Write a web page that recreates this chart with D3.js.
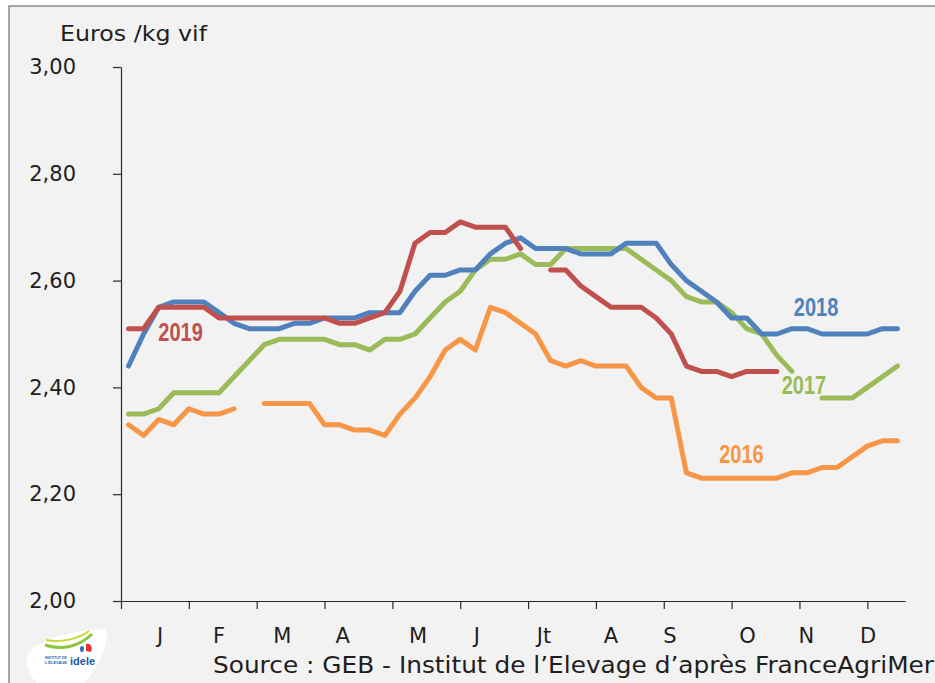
<!DOCTYPE html>
<html><head><meta charset="utf-8">
<script src="https://cdn.jsdelivr.net/npm/d3@7"></script>
<style>body{margin:0;background:#fff;} svg{display:block;}</style>
</head><body>
<svg id="chart" width="935" height="683"></svg>
<script>
// ---------- DATA ----------
const weeks = d3.range(1, 53);
const months = ["J","F","M","A","M","J","Jt","A","S","O","N","D"];
const monthLabelWeeks = [2.6, 6.5, 10.7, 14.7, 19.7, 23.6, 28.05, 32.5, 36.4, 41.55, 45.45, 49.55];
const xTickWeeks = [0, 4.5, 9, 13.5, 18, 22.5, 27, 31.5, 36, 40.5, 45, 49.5];
const yTicks = [2.0, 2.2, 2.4, 2.6, 2.8, 3.0];
const seriesNames = ["2016", "2017", "2018", "2019"];

const prix2016 = [2.33,2.31,2.34,2.33,2.36,2.35,2.35,2.36,null,2.37,2.37,2.37,2.37,2.33,2.33,2.32,2.32,2.31,2.35,2.38,
  2.42,2.47,2.49,2.47,2.55,2.54,2.52,2.50,2.45,2.44,2.45,2.44,2.44,2.44,2.40,2.38,2.38,2.24,2.23,2.23,
  2.23,2.23,2.23,2.23,2.24,2.24,2.25,2.25,2.27,2.29,2.30,2.30];
const prix2017 = [2.35,2.35,2.36,2.39,2.39,2.39,2.39,2.42,2.45,2.48,2.49,2.49,2.49,2.49,2.48,2.48,2.47,2.49,2.49,2.50,
  2.53,2.56,2.58,2.62,2.64,2.64,2.65,2.63,2.63,2.66,2.66,2.66,2.66,2.66,2.64,2.62,2.60,2.57,2.56,2.56,
  2.54,2.51,2.50,2.46,2.43,null,2.38,2.38,2.38,2.40,2.42,2.44];
const prix2018 = [2.44,2.50,2.55,2.56,2.56,2.56,2.54,2.52,2.51,2.51,2.51,2.52,2.52,2.53,2.53,2.53,2.54,2.54,2.54,2.58,
  2.61,2.61,2.62,2.62,2.65,2.67,2.68,2.66,2.66,2.66,2.65,2.65,2.65,2.67,2.67,2.67,2.63,2.60,2.58,2.56,
  2.53,2.53,2.50,2.50,2.51,2.51,2.50,2.50,2.50,2.50,2.51,2.51];
const prix2019 = [2.51,2.51,2.55,2.55,2.55,2.55,2.53,2.53,2.53,2.53,2.53,2.53,2.53,2.53,2.52,2.52,2.53,2.54,2.58,2.67,
  2.69,2.69,2.71,2.70,2.70,2.70,2.66,null,2.62,2.62,2.59,2.57,2.55,2.55,2.55,2.53,2.50,2.44,2.43,2.43,
  2.42,2.43,2.43,2.43,null,null,null,null,null,null,null,null];

// ---------- LAYOUT / STYLE ----------
const colors = {"2016":"#f79646","2017":"#9bbb59","2018":"#4f81bd","2019":"#c0504d"};
const seriesData = {"2016":prix2016,"2017":prix2017,"2018":prix2018,"2019":prix2019};
const drawOrder = ["2016","2017","2018","2019"];
// label anchors in data units (week, value), centre-anchored
const labelAnchors = {"2019":[3.95,2.486],"2018":[46.1,2.533],"2017":[45.3,2.387],"2016":[41.15,2.259]};

const svg = d3.select("#chart");
const W = 935, H = 683;
const x = d3.scaleLinear().domain([0, 52]).range([121, 905]);
const y = d3.scaleLinear().domain([2, 3]).range([601, 67]);
const textFont = "'DejaVu Sans', sans-serif";
const textColor = "#1e1e1e";

// frame
svg.append("rect").attr("x",0).attr("y",0).attr("width",W).attr("height",H).attr("fill","#fff");
svg.append("rect").attr("x",9).attr("y",6).attr("width",W+20).attr("height",H+20)
  .attr("fill","#f2f2f2").attr("stroke","#8c8c8c").attr("stroke-width",1.5);

// title
svg.append("text").attr("x",60).attr("y",41).text("Euros /kg vif")
  .attr("font-family",textFont).attr("font-size",21).attr("fill",textColor)
  .attr("textLength",147).attr("lengthAdjust","spacingAndGlyphs");

// y axis
const yAxis = d3.axisLeft(y).tickValues(yTicks).tickSize(8).tickSizeOuter(0).tickPadding(37)
  .tickFormat(d => d.toFixed(2).replace(".", ","));
const gy = svg.append("g").attr("transform",`translate(${x(0)},0)`).call(yAxis);
gy.selectAll("path,line").attr("stroke","#2a2a2a").attr("stroke-width",1.2);
gy.selectAll("text").attr("font-family",textFont).attr("font-size",21).attr("fill",textColor);

// x axis
const xAxis = d3.axisBottom(x).tickValues(xTickWeeks).tickSize(8).tickSizeOuter(0).tickFormat("");
const gx = svg.append("g").attr("transform",`translate(0,${y(2)})`).call(xAxis);
gx.selectAll("path,line").attr("stroke","#2a2a2a").attr("stroke-width",1.2);

// month labels
svg.append("g").selectAll("text").data(months).join("text")
  .attr("x",(d,i)=>x(monthLabelWeeks[i])).attr("y",643)
  .attr("text-anchor","middle").text(d=>d)
  .attr("font-family",textFont).attr("font-size",21).attr("fill",textColor);

// lines
const line = d3.line().defined(d => d.v != null).x(d => x(d.w - 0.5)).y(d => y(d.v));
drawOrder.forEach(name => {
  const pts = weeks.map((w,i) => ({w, v: seriesData[name][i]}));
  svg.append("path").datum(pts).attr("d", line)
    .attr("fill","none").attr("stroke",colors[name]).attr("stroke-width",5)
    .attr("stroke-linejoin","round").attr("stroke-linecap","round");
});

// series labels
seriesNames.forEach(name => {
  const [w, v] = labelAnchors[name];
  svg.append("text").attr("x", x(w)).attr("y", y(v)).text(name)
    .attr("text-anchor","middle")
    .attr("font-family","'Liberation Sans Narrow','Liberation Sans',Arial,sans-serif")
    .attr("font-weight","bold").attr("font-size",25).attr("fill",colors[name])
    .attr("textLength",44.5).attr("lengthAdjust","spacingAndGlyphs");
});

// source
svg.append("text").attr("x",213).attr("y",673)
  .text("Source : GEB - Institut de l\u2019Elevage d\u2019après FranceAgriMer")
  .attr("font-family",textFont).attr("font-size",23).attr("fill",textColor)
  .attr("textLength",721).attr("lengthAdjust","spacingAndGlyphs");

// logo
const logo = svg.append("g");
logo.append("path").attr("d","M27,656 C30,641 78,629 106,629 C110,641 98,668 84,684 L38,684 C29,676 25,666 27,656 Z")
  .attr("fill","#ffffff");
logo.append("path").attr("d","M45,645 C62,651 80,646 92,634").attr("fill","none").attr("stroke","#8cc63f").attr("stroke-width",3);
logo.append("path").attr("d","M46,640 C62,643 78,639 89,631").attr("fill","none").attr("stroke","#c8d92e").attr("stroke-width",2);
logo.append("path").attr("d","M86,644 C90,643 93,646 91,652 L86,651 Z").attr("fill","#e4342b");
logo.append("ellipse").attr("cx",82).attr("cy",649).attr("rx",2).attr("ry",3).attr("fill","#2f6db5");
logo.append("text").attr("x",45).attr("y",659).text("INSTITUT DE").attr("font-family","'Liberation Sans',sans-serif")
  .attr("font-size",4).attr("font-weight","bold").attr("fill","#2f5fa8")
  .attr("textLength",22).attr("lengthAdjust","spacingAndGlyphs");
logo.append("text").attr("x",45).attr("y",664).text("L'ÉLEVAGE").attr("font-family","'Liberation Sans',sans-serif")
  .attr("font-size",4).attr("font-weight","bold").attr("fill","#2f5fa8")
  .attr("textLength",22).attr("lengthAdjust","spacingAndGlyphs");
logo.append("text").attr("x",70).attr("y",665).text("idele").attr("font-family","'Liberation Sans',sans-serif")
  .attr("font-size",11).attr("font-weight","bold").attr("fill","#1f55a5");
</script>
</body></html>
